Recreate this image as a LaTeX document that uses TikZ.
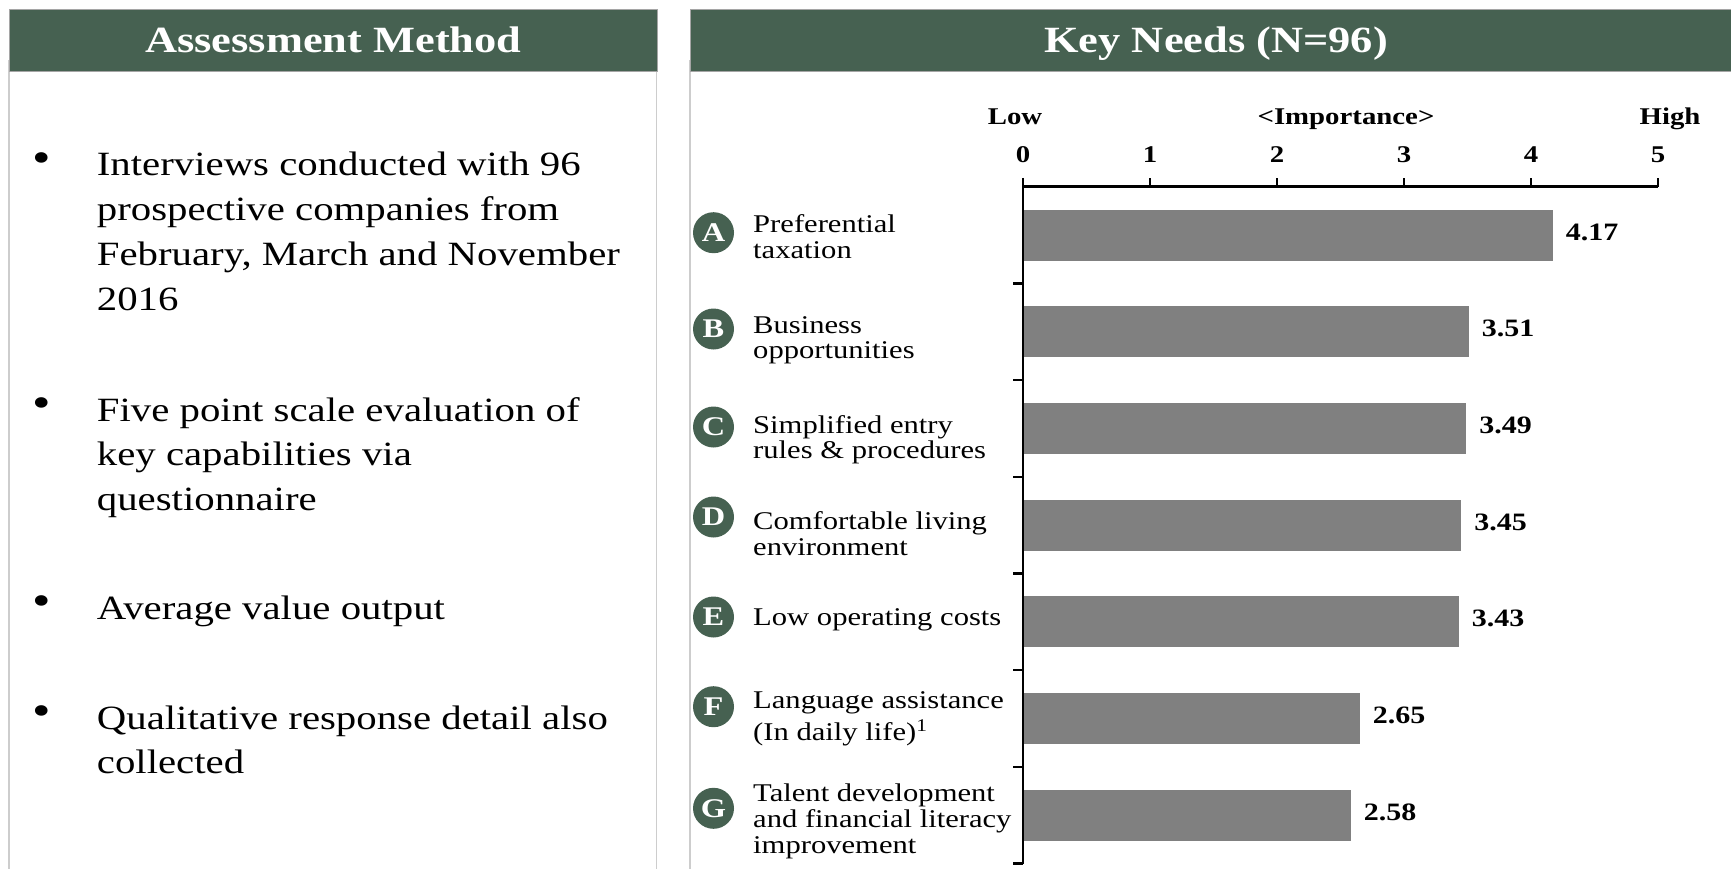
\documentclass[tikz,border=0pt]{standalone}
\usepackage{fontspec}
\setmainfont{Liberation Serif}[FakeStretch=1.2]
\definecolor{hdrgreen}{RGB}{70,97,81}
\definecolor{bargray}{RGB}{128,128,128}
\definecolor{panelgray}{RGB}{205,205,205}
\definecolor{hdrline}{RGB}{165,165,165}
\newcommand\stk[2]{\vtop{\baselineskip=#1\relax\lineskiplimit=-\maxdimen\lineskip=0pt\halign{##\hfil\cr#2\crcr}}}
\tikzset{
 hdr/.style={draw=hdrline, line width=1.2pt, fill=hdrgreen, text=white, inner sep=0pt, minimum height=61.7pt, text height=24.5pt, text depth=0pt, anchor=north west, font=\fontsize{37}{40}\selectfont\bfseries},
 panelline/.style={draw=panelgray, line width=1.8pt},
 bultxt/.style={anchor=base west, inner sep=0pt, font=\fontsize{34}{44.7}\selectfont},
 buldot/.style={inner sep=0pt, font=\fontsize{44}{44}\selectfont},
 lab/.style={anchor=base west, inner sep=0pt, font=\fontsize{25.5}{25.5}\selectfont},
 badge/.style={circle, fill=hdrgreen, text=white, minimum size=41pt, inner sep=0pt, font=\fontsize{27}{27}\selectfont\bfseries},
 bar/.style={fill=bargray, inner sep=0pt, outer sep=0pt, minimum height=51pt, anchor=west},
 val/.style={anchor=base west, inner sep=0pt, font=\fontsize{25}{25}\selectfont\bfseries},
 axl/.style={anchor=base, inner sep=0pt, font=\fontsize{24}{24}\selectfont\bfseries},
 axisline/.style={line width=2.5pt, draw=black},
}
\begin{document}
\begin{tikzpicture}[x=1pt,y=-1pt]
\useasboundingbox (0,0) rectangle (1731,869);
% panel borders
\draw[panelline] (9,60) -- (9,869);
\draw[panelline] (656.5,60) -- (656.5,869);
\draw[panelline] (690,60) -- (690,869);
% headers
\node[hdr, minimum width=647.5pt] (h1) at (9,9) {Assessment Method};
\node[hdr, minimum width=1051pt] (h2) at (690,9) {Key Needs (N=96)};
% bullets
\node[buldot] (d1) at (41.7,163) {\textbullet};
\node[bultxt] (b1) at (96.7,176) {\stk{44.7pt}{Interviews conducted with 96\cr prospective companies from\cr February, March and November\cr 2016}};
\node[buldot] (d2) at (41.7,408) {\textbullet};
\node[bultxt] (b2) at (96.7,421) {\stk{44.7pt}{Five point scale evaluation of\cr key capabilities via\cr questionnaire}};
\node[buldot] (d3) at (41.7,606) {\textbullet};
\node[bultxt] (b3) at (96.7,619) {Average value output};
\node[buldot] (d4) at (41.7,716) {\textbullet};
\node[bultxt] (b4) at (96.7,729) {\stk{44.7pt}{Qualitative response detail also\cr collected}};
% axis labels
\node[axl] (low) at (1015,124.5) {Low};
\node[axl] (imp) at (1346,124.5) {<Importance>};
\node[axl] (high) at (1670,124.5) {High};
\foreach \k in {0,...,5} \node[axl] (t\k) at ({1023+127*\k},162.7) {\k};
% bars
\foreach \v/\n [count=\i from 0] in {4.17/A,3.51/B,3.49/C,3.45/D,3.43/E,2.65/F,2.58/G}{
  \node[bar, minimum width={\v*127pt}] (bar\n) at (1023,{186.7+96.7*(\i+0.5)}) {};
  \node[val] (val\n) at ([xshift=13pt,yshift=-5pt]bar\n.east) {\v};
}
% axes
\coordinate (o) at (1023,186.7);
\coordinate (xend) at (1658,186.7);
\coordinate (ytop) at (1023,178);
\coordinate (ybot) at (1023,863.5);
\draw[axisline] (ytop) -- (ybot);
\draw[axisline] (o) -- (xend);
\foreach \k in {1,...,5} \draw[axisline] ({1023+127*\k},186.7) -- ++(0,-8.7);
\foreach \k in {1,...,7} \draw[axisline] (1023,{186.7+96.7*\k}) -- ++(-10,0);
% category badges and labels
\node[badge] (cA) at (713.5,232.7) {A};
\node[lab] (lA) at (753,233) {\stk{25.5pt}{Preferential\cr taxation}};
\node[badge] (cB) at (713.5,329) {B};
\node[lab] (lB) at (753,333) {\stk{25.5pt}{Business\cr opportunities}};
\node[badge] (cC) at (713.5,427) {C};
\node[lab] (lC) at (753,433) {\stk{25.5pt}{Simplified entry\cr rules \& procedures}};
\node[badge] (cD) at (713.5,517) {D};
\node[lab] (lD) at (753,529) {\stk{26pt}{Comfortable living\cr environment}};
\node[badge] (cE) at (713.5,617) {E};
\node[lab] (lE) at (753,625) {Low operating costs};
\node[badge] (cF) at (713.5,706.7) {F};
\node[lab] (lF) at (753,708.3) {\stk{32pt}{Language assistance\cr (In daily life)\textsuperscript{1}}};
\node[badge] (cG) at (713.5,808.3) {G};
\node[lab] (lG) at (753,801.7) {\stk{25.8pt}{Talent development\cr and financial literacy\cr improvement}};
\end{tikzpicture}
\end{document}
